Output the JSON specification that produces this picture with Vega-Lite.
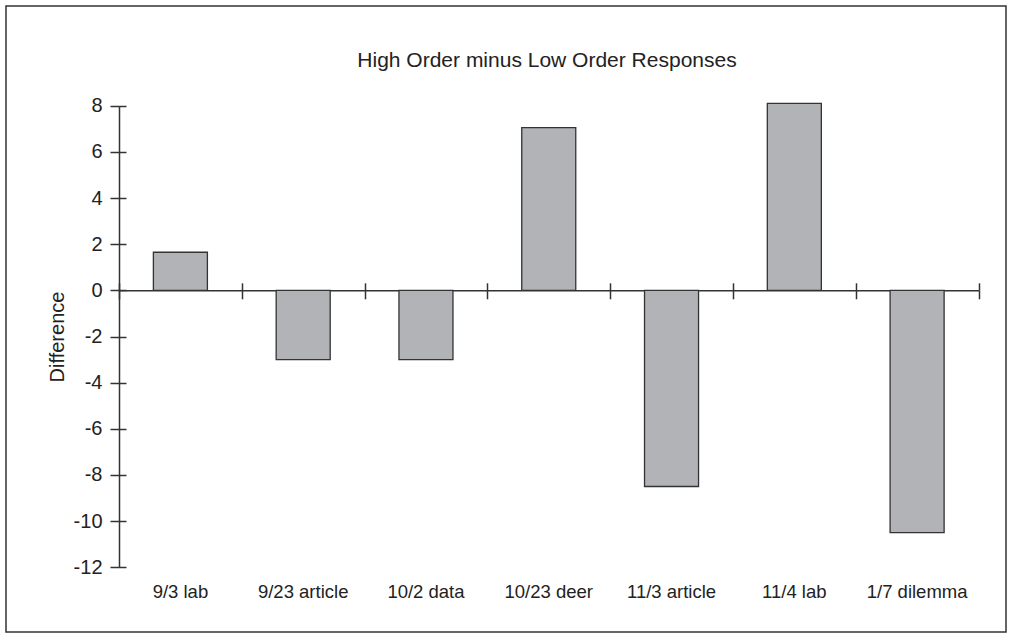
{
  "$schema": "https://vega.github.io/schema/vega-lite/v6.json",
  "width": 1000,
  "height": 626,
  "autosize": {"type": "none"},
  "padding": {"left": 6, "top": 6, "right": 6, "bottom": 5},
  "background": "white",
  "config": {
    "view": {"stroke": "#333", "strokeWidth": 1.5},
    "font": "Liberation Sans"
  },
  "title": {
    "text": "High Order minus Low Order Responses",
    "fontSize": 21,
    "font": "Liberation Sans",
    "fontWeight": "normal",
    "color": "#222",
    "anchor": "middle",
    "dx": 41,
    "offset": -82,
    "baseline": "alphabetic"
  },
  "data": {
    "values": [
      {"session": "9/3 lab", "difference": 1.65},
      {"session": "9/23 article", "difference": -3},
      {"session": "10/2 data", "difference": -3},
      {"session": "10/23 deer", "difference": 7.05},
      {"session": "11/3 article", "difference": -8.5},
      {"session": "11/4 lab", "difference": 8.1},
      {"session": "1/7 dilemma", "difference": -10.5}
    ]
  },
  "resolve": {"axis": {"x": "independent", "y": "independent"}},
  "layer": [
    {
      "mark": {"type": "bar", "width": {"band": 0.44}, "fill": "#b1b3b6", "stroke": "#333", "strokeWidth": 1.3},
      "encoding": {
        "x": {
          "field": "session", "type": "nominal", "sort": null,
          "scale": {"range": [113, 972.5], "paddingInner": 0, "paddingOuter": 0},
          "axis": {
            "orient": "bottom", "offset": -64.7, "domain": false, "ticks": false, "tickSize": 0,
            "labelPadding": 30.4, "labelBaseline": "alphabetic", "labelFontSize": 18.5,
            "labelFont": "Liberation Sans", "labelColor": "#222", "labelAngle": 0,
            "title": null, "grid": false
          }
        },
        "y": {
          "field": "difference", "type": "quantitative",
          "scale": {"domain": [-12, 8], "range": [561.3, 99.7], "nice": false},
          "axis": {
            "orient": "left", "offset": -113,
            "values": [-12, -10, -8, -6, -4, -2, 0, 2, 4, 6, 8],
            "labelExpr": "'' + datum.value",
            "tickSize": 9, "tickWidth": 1.5, "tickColor": "#333",
            "domainColor": "#333", "domainWidth": 1.5,
            "labelPadding": 8, "labelFontSize": 20, "labelFont": "Liberation Sans", "labelColor": "#222",
            "title": "Difference", "titleFontSize": 20, "titleFont": "Liberation Sans",
            "titleFontWeight": "normal", "titleColor": "#222", "titlePadding": 6, "grid": false
          }
        }
      }
    },
    {
      "mark": {"type": "point", "opacity": 0},
      "encoding": {
        "x": {
          "field": "session", "type": "nominal", "sort": null,
          "scale": {"range": [113, 972.5], "paddingInner": 0, "paddingOuter": 0},
          "axis": {
            "orient": "top", "offset": -284.3, "tickBand": "extent", "tickSize": 7.5,
            "tickWidth": 1.5, "tickColor": "#333", "domain": true, "domainColor": "#333", "domainWidth": 1.5,
            "labels": false, "title": null, "grid": false
          }
        },
        "y": {
          "field": "difference", "type": "quantitative",
          "scale": {"domain": [-12, 8], "range": [561.3, 99.7], "nice": false},
          "axis": {
            "orient": "right", "offset": -887,
            "values": [-12, -10, -8, -6, -4, -2, 0, 2, 4, 6, 8],
            "tickSize": 7, "tickWidth": 1.5, "tickColor": "#333",
            "domain": false, "labels": false, "title": null, "grid": false
          }
        }
      }
    },
    {
      "mark": {"type": "point", "opacity": 0},
      "encoding": {
        "x": {
          "field": "session", "type": "nominal", "sort": null,
          "scale": {"range": [113, 972.5], "paddingInner": 0, "paddingOuter": 0},
          "axis": {
            "orient": "bottom", "offset": -341.7, "tickBand": "extent", "tickSize": 8.5,
            "tickWidth": 1.5, "tickColor": "#333", "domain": false,
            "labels": false, "title": null, "grid": false
          }
        },
        "y": {
          "field": "difference", "type": "quantitative",
          "scale": {"domain": [-12, 8], "range": [561.3, 99.7], "nice": false},
          "axis": null
        }
      }
    }
  ]
}
